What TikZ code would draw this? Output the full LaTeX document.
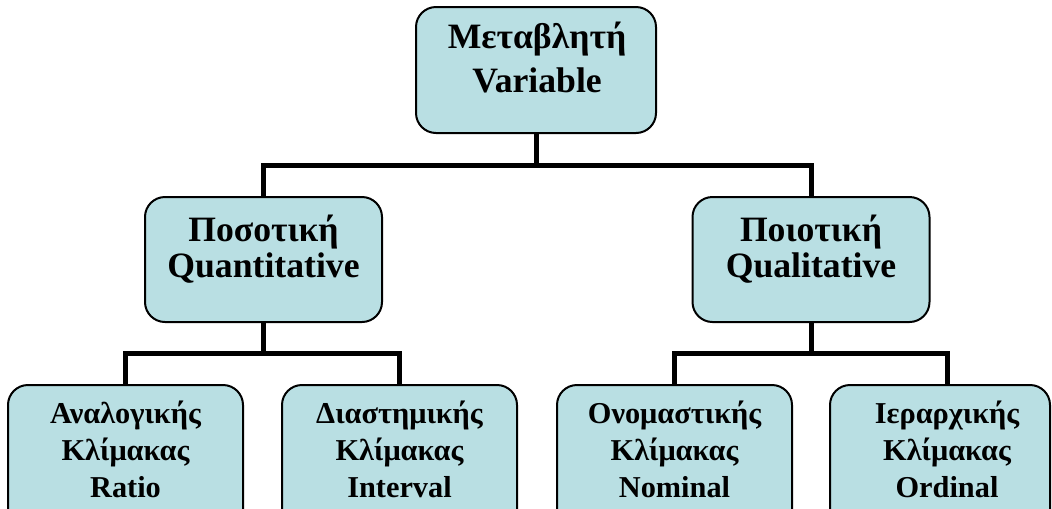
\documentclass[tikz,border=0pt]{standalone}
\usepackage{fontspec}
\setmainfont{Liberation Serif}
\definecolor{boxfill}{RGB}{185,223,227}
\begin{document}
\begin{tikzpicture}[x=0.75pt,y=-0.75pt,
  box/.style={draw=black, line width=1.5pt, fill=boxfill, rounded corners=15pt, inner sep=0pt, outer sep=0pt},
  conn/.style={draw=black, line width=3.75pt, line join=miter},
  bigtxt/.style={font=\fontsize{26.75}{33}\selectfont\bfseries, align=center, anchor=base, inner sep=0pt},
  midtxt/.style={font=\fontsize{26.75}{26.5}\selectfont\bfseries, align=center, anchor=base, inner sep=0pt},
  smalltxt/.style={font=\fontsize{22.75}{27.75}\selectfont\bfseries, align=center, anchor=base, inner sep=0pt}]
\useasboundingbox (0,0) rectangle (1052,508);
\clip (0,0) rectangle (1052,508);
% boxes
\node[box, minimum width=180pt, minimum height=94.5pt] (top) at (536,70) {};
\node[box, minimum width=177.75pt, minimum height=93.75pt] (ml) at (263.5,259.5) {};
\node[box, minimum width=177.75pt, minimum height=93.75pt] (mr) at (811,259.5) {};
\node[box, minimum width=176.25pt, minimum height=112.5pt] (b1) at (125.5,460) {};
\node[box, minimum width=176.25pt, minimum height=112.5pt] (b2) at (399.5,460) {};
\node[box, minimum width=176.25pt, minimum height=112.5pt] (b3) at (674.5,460) {};
\node[box, minimum width=165pt, minimum height=112.5pt] (b4) at (940,460) {};
% connectors
\coordinate (bar1) at (536,165);
\coordinate (bar2) at (263.5,353);
\coordinate (bar3) at (811,353);
\draw[conn] (top.south) -- (bar1);
\draw[conn] (ml.north) -- ++(0,-32) -| (mr.north);
\draw[conn] (ml.south) -- (bar2);
\draw[conn] (b1.north) -- ++(0,-32) -| (b2.north);
\draw[conn] (mr.south) -- (bar3);
\draw[conn] (b3.north) -- ++(0,-32) -| ([xshift=5.25pt]b4.north);
% texts
\node[bigtxt] (ttop) at (537,92) {Μεταβλητή\\Variable};
\node[midtxt] (tml) at (263.5,277) {Ποσοτική\\Quantitative};
\node[midtxt] (tmr) at (811,277) {Ποιοτική\\Qualitative};
\node[smalltxt] (tb1) at (125.5,497) {Αναλογικής\\Κλίμακας\\Ratio};
\node[smalltxt] (tb2) at (399.5,497) {Διαστημικής\\Κλίμακας\\Interval};
\node[smalltxt] (tb3) at (674.5,497) {Ονομαστικής\\Κλίμακας\\Nominal};
\node[smalltxt] (tb4) at (947,497) {Ιεραρχικής\\Κλίμακας\\Ordinal};
\end{tikzpicture}
\end{document}
